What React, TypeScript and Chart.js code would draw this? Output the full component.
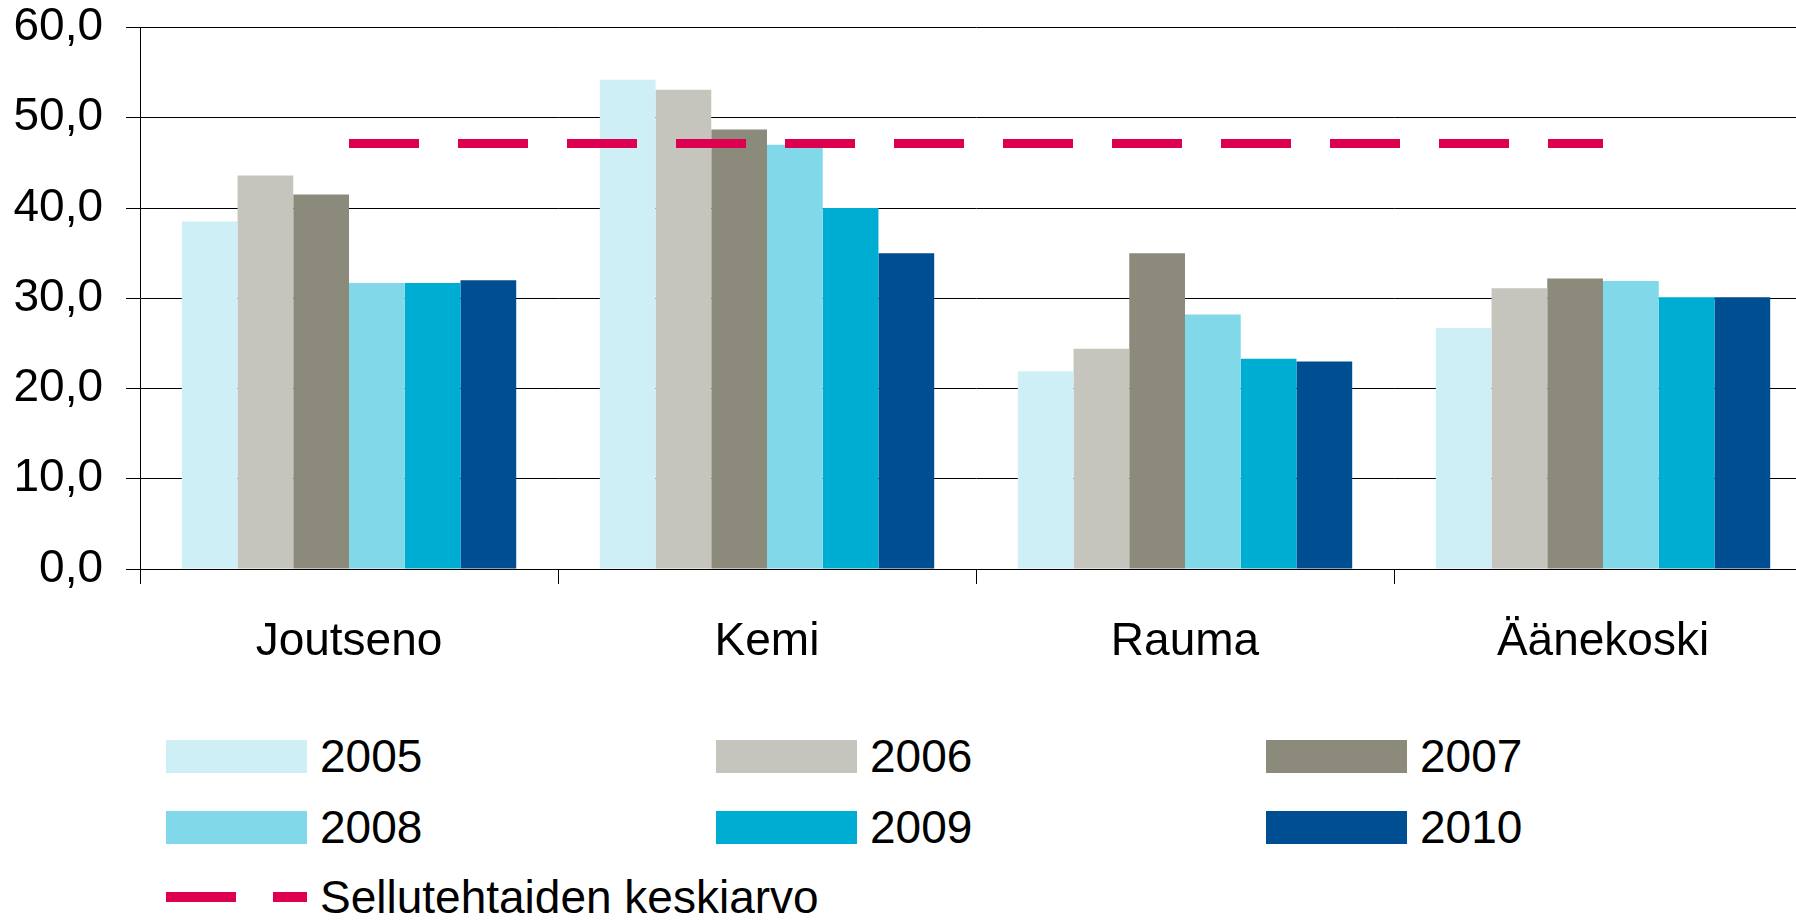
import React, { useEffect, useRef } from "react";
import { Chart, registerables } from "chart.js";

Chart.register(...registerables);

const categories = ["Joutseno", "Kemi", "Rauma", "Äänekoski"];
const years = ["2005", "2006", "2007", "2008", "2009", "2010"];
const v2005 = [38.5, 54.2, 21.9, 26.7];
const v2006 = [43.6, 53.1, 24.4, 31.1];
const v2007 = [41.5, 48.7, 35.0, 32.2];
const v2008 = [31.7, 47.0, 28.2, 31.9];
const v2009 = [31.7, 40.0, 23.3, 30.1];
const v2010 = [32.0, 35.0, 23.0, 30.1];
const average = [47.15, 47.15, 47.15, 47.15];
const averageLabel = "Sellutehtaiden keskiarvo";
const yTickLabels = ["0,0", "10,0", "20,0", "30,0", "40,0", "50,0", "60,0"];
const seriesValues = [v2005, v2006, v2007, v2008, v2009, v2010];
const barColors = ["#CDEFF5", "#C5C5BD", "#8C8A7A", "#81D8E8", "#00ADD2", "#004E92"];
const avgColor = "#DE0050";

const FONT = "'Liberation Sans', Arial, sans-serif";

export default function App() {
  const ref = useRef<HTMLCanvasElement | null>(null);

  useEffect(() => {
    if (!ref.current) return;
    const datasets: any[] = [
      {
        type: "line",
        label: averageLabel,
        data: average,
        borderColor: avgColor,
        borderWidth: 9,
        borderDash: [70, 39],
        borderCapStyle: "butt",
        pointRadius: 0,
        fill: false,
        order: -1,
      },
      ...years.map((y, i) => ({
        type: "bar",
        label: y,
        data: seriesValues[i],
        backgroundColor: barColors[i],
        borderWidth: 0,
        categoryPercentage: 0.8,
        barPercentage: 1.0,
        order: 1,
      })),
    ];
    const chart = new Chart(ref.current, {
      type: "bar",
      data: { labels: categories, datasets },
      options: {
        animation: false,
        responsive: false,
        maintainAspectRatio: false,
        devicePixelRatio: 1,
        layout: { padding: { top: 27.5, right: 18, left: 0, bottom: 0 } },
        plugins: { legend: { display: false }, tooltip: { enabled: false } },
        scales: {
          x: {
            grid: {
              display: true,
              offset: true,
              drawOnChartArea: false,
              drawTicks: true,
              tickLength: 15,
              color: "#000",
              lineWidth: 1,
            },
            border: { display: true, color: "#000", width: 1 },
            ticks: {
              color: "#000",
              font: { family: FONT, size: 46 },
              padding: 31,
              maxRotation: 0,
            },
            afterFit: (s: any) => {
              s.height = 131;
            },
          },
          y: {
            min: 0,
            max: 60,
            grid: {
              color: "#000",
              lineWidth: 1,
              tickLength: 14,
              drawTicks: true,
            },
            border: { display: true, color: "#000", width: 1 },
            ticks: {
              stepSize: 10,
              color: "#000",
              font: { family: FONT, size: 46 },
              padding: 23,
              callback: (_v: any, idx: number) => yTickLabels[idx],
            },
            afterFit: (s: any) => {
              s.width = 140;
              s.paddingTop = 0;
              s.paddingBottom = 0;
            },
          },
        },
      },
    });
    return () => chart.destroy();
  }, []);

  const legendItems = years.map((y, i) => ({ label: y, color: barColors[i], col: i % 3, row: Math.floor(i / 3) }));

  return (
    <div style={{ position: "fixed", left: 0, top: 0, width: 1796, height: 920, overflow: "hidden", background: "#fff", fontFamily: FONT }}>
      <canvas ref={ref} width={1830} height={700} style={{ position: "absolute", left: 0, top: 0, width: 1830, height: 700 }} />
      {legendItems.map((it) => {
        const left = 166 + it.col * 550;
        const cy = 756 + it.row * 71;
        return (
          <div key={it.label}>
            <div style={{ position: "absolute", left, top: cy - 16, width: 141, height: 33, background: it.color }} />
            <div style={{ position: "absolute", left: left + 154, top: cy - 30, height: 60, display: "flex", alignItems: "center", fontSize: 46, color: "#000", whiteSpace: "nowrap" }}>
              {it.label}
            </div>
          </div>
        );
      })}
      <div style={{ position: "absolute", left: 166, top: 897 - 5, width: 70, height: 10, background: avgColor }} />
      <div style={{ position: "absolute", left: 273, top: 897 - 5, width: 34, height: 10, background: avgColor }} />
      <div style={{ position: "absolute", left: 320, top: 897 - 30, height: 60, display: "flex", alignItems: "center", fontSize: 46, color: "#000", whiteSpace: "nowrap" }}>
        {averageLabel}
      </div>
    </div>
  );
}
